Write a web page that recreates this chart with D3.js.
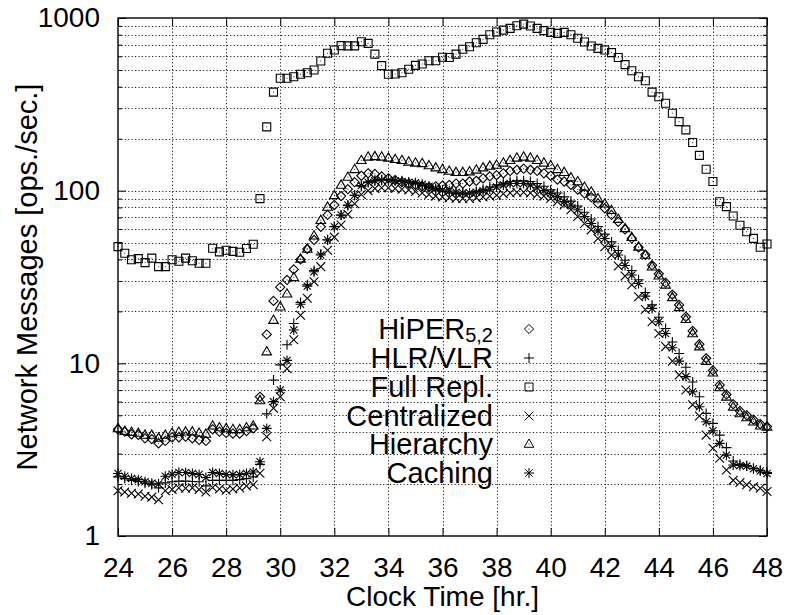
<!DOCTYPE html>
<html>
<head>
<meta charset="utf-8">
<script src="https://cdn.jsdelivr.net/npm/d3@7"></script>
<style>
  body { margin: 0; background: #fff; }
  svg { display: block; font-family: "Liberation Sans", Arial, Helvetica, sans-serif; }
  .axis text { font-size: 28px; fill: #000; }
  .axis line { stroke: #000; stroke-width: 1; }
  .grid line { stroke: #222; stroke-width: 1; stroke-dasharray: 1.2,2.2; }
</style>
</head>
<body>
<svg id="chart" width="788" height="615"></svg>
<script>
// clock time, one sample every 15 minutes from 24h to 48h
const hours = d3.range(97).map(i => 24 + i * 0.25);

const xTicks = [24, 26, 28, 30, 32, 34, 36, 38, 40, 42, 44, 46, 48];
const yTicks = [1, 10, 100, 1000];

// series values (ops./sec.), rows of 2 hours
const hiper = [
  4.15, 4.02, 3.88, 3.85, 3.68, 3.64, 3.44, 3.55,
  3.73, 3.73, 3.76, 3.68, 3.60, 3.55, 4.15, 4.02,
  3.95, 3.92, 3.92, 4.05, 4.20, 6.4, 14.7, 23.0,
  27.6, 30.4, 35.0, 40.0, 46.0, 51.8, 61.8, 72.3,
  82.6, 93.0, 102, 112, 122, 126, 125, 121,
  118, 115, 112, 110, 108, 106, 105, 106,
  107, 108, 110, 110, 113, 114, 118, 121,
  123, 126, 130, 132, 134, 132, 130, 126,
  122, 116, 113, 108, 101.5, 96.4, 91.7, 84.4,
  79.1, 72.3, 66.0, 59.7, 52.9, 47.0, 42.5, 37.0,
  33.0, 29.3, 25.0, 21.8, 18.6, 15.4, 12.9, 10.7,
  9.1, 7.5, 6.6, 5.8, 5.3, 5.0, 4.72, 4.45,
  4.3
];
const hlrVlr = [
  2.2, 2.15, 2.1, 2.07, 2.02, 1.98, 1.9, 2.03,
  2.06, 2.08, 2.08, 2.07, 2.06, 1.95, 2.1, 2.1,
  2.1, 2.1, 2.12, 2.15, 2.2, 2.6, 5.1, 8.0,
  9.8, 12.8, 17.0, 22.5, 28.5, 34.5, 43, 52,
  62, 72, 82, 94, 106, 112, 115, 116,
  116, 115, 114, 112, 110, 107, 104, 101,
  99, 97, 96, 96, 97, 99, 102, 105,
  108, 111, 113, 114, 114, 113, 110, 106,
  101, 97, 92, 87, 81.5, 75, 68.5, 62,
  56, 50.5, 45, 39.5, 34.5, 30.5, 25.7, 21.8,
  18.5, 15.9, 13.3, 11.4, 9.5, 7.8, 6.4, 5.13,
  4.49, 3.84, 3.25, 2.72, 2.6, 2.55, 2.47, 2.4,
  2.33
];
const fullRepl = [
  47.4, 43.4, 39.8, 40.4, 38.3, 40.7, 36.3, 36.3,
  39.8, 39.0, 40.7, 39.3, 38.0, 38.0, 46.4, 44.2,
  45.2, 44.5, 44.0, 46.2, 48.9, 89.9, 234, 372,
  448, 448, 457, 472, 482, 500, 564, 625,
  653, 692, 690, 690, 729, 713, 618, 530,
  472, 474, 482, 505, 532, 541, 566, 566,
  592, 590, 618, 659, 682, 719, 752, 800,
  829, 851, 871, 902, 922, 899, 871, 845,
  826, 815, 826, 800, 763, 726, 689, 667,
  653, 630, 590, 537, 495, 457, 433, 372,
  350, 321, 281, 251, 225, 190, 160, 133,
  113, 86.3, 80.8, 71.3, 63.0, 57.8, 52.9, 47.0,
  49.1
];
const centralized = [
  1.83, 1.8, 1.77, 1.75, 1.7, 1.68, 1.62, 1.83,
  1.86, 1.9, 1.89, 1.9, 1.86, 1.8, 1.91, 1.87,
  1.84, 1.87, 1.9, 1.95, 1.98, 2.31, 3.76, 5.5,
  6.4, 9.3, 13.7, 19.0, 23.8, 29.7, 36.3, 45.2,
  53.8, 63.3, 73, 84, 95, 100, 103, 104,
  104, 103, 102, 101, 99, 97, 95, 93,
  92, 91, 90, 90, 90, 91, 92, 93,
  94, 96, 97, 98, 98, 97, 95, 93,
  90, 86.4, 82.6, 77.5, 70.8, 64.5, 59.3, 52.8,
  47.3, 42.4, 36.6, 32, 28.5, 24.3, 20.5, 17.4,
  14.9, 12.5, 10.3, 8.57, 7.0, 5.75, 4.95, 3.84,
  3.22, 2.82, 2.41, 2.1, 2.04, 1.98, 1.93, 1.89,
  1.81
];
const hierarchy = [
  4.2, 4.05, 4.0, 3.95, 3.85, 3.85, 3.7, 3.85,
  3.95, 4.0, 4.02, 4.02, 3.95, 3.9, 4.35, 4.25,
  4.2, 4.15, 4.15, 4.25, 4.35, 6.1, 11.7, 17.8,
  21.3, 25.3, 31.5, 40.3, 46.0, 54.8, 67.5, 80.5,
  94.0, 108, 120, 133, 150, 157, 158, 157,
  155, 152, 150, 147, 145, 144, 140, 136,
  133, 130, 128, 128, 129, 132, 136, 139,
  141, 145, 150, 155, 157, 155, 150, 145,
  140, 133, 128, 119, 113, 105, 98.6, 90.0,
  84.0, 77.0, 68.5, 60.5, 53.8, 47.3, 42.4, 36.3,
  32.2, 28.5, 24.1, 21.1, 18.0, 14.9, 12.5, 10.3,
  8.83, 7.25, 6.4, 5.6, 5.13, 4.86, 4.59, 4.35,
  4.29
];
const caching = [
  2.3, 2.22, 2.15, 2.12, 2.06, 2.02, 2.0, 2.22,
  2.28, 2.33, 2.33, 2.3, 2.27, 2.18, 2.33, 2.3,
  2.27, 2.26, 2.27, 2.3, 2.35, 2.69, 4.2, 6.0,
  7.0, 10.4, 15.6, 22.0, 28.0, 33.9, 42.4, 51.8,
  61.8, 72.3, 82.6, 94, 107, 112, 114, 115,
  115, 114, 113, 112, 111, 109, 106, 103,
  101, 99.5, 98, 97, 97, 98, 100, 102,
  105, 108, 110, 110, 110, 108, 104, 100,
  96.5, 92.4, 86.4, 82.6, 77.5, 70.8, 64.5, 58.5,
  52.8, 47.6, 42.4, 36.9, 32.5, 29.0, 24.5, 20.8,
  17.4, 14.9, 12.3, 10.3, 8.38, 6.85, 5.6, 4.59,
  4.07, 3.44, 2.94, 2.58, 2.56, 2.54, 2.45, 2.38,
  2.3
];

const seriesNames = ["HiPER", "HLR/VLR", "Full Repl.", "Centralized", "Hierarchy", "Caching"];
const seriesValues = [hiper, hlrVlr, fullRepl, centralized, hierarchy, caching];
const seriesShapes = ["diamond", "plus", "square", "cross", "triangle", "star"];

const svg = d3.select("#chart");
const margin = {top: 18, right: 21, bottom: 79, left: 118};
const W = 788, H = 615;

const x = d3.scaleLinear().domain([24, 48]).range([margin.left, W - margin.right]);
const y = d3.scaleLog().domain([1, 1000]).range([H - margin.bottom, margin.top]);

// minor log values 2..9 for each decade
let minorY = [];
[1, 10, 100].forEach(d => { for (let m = 2; m <= 9; m++) minorY.push(d * m); });

// grid
const grid = svg.append("g").attr("class", "grid");
grid.selectAll(".gy").data(minorY.concat([10, 100])).enter().append("line")
  .attr("x1", x(24)).attr("x2", x(48))
  .attr("y1", d => Math.round(y(d)) + 0.5).attr("y2", d => Math.round(y(d)) + 0.5);
grid.selectAll(".gx").data(xTicks.slice(1, -1)).enter().append("line")
  .attr("y1", y(1)).attr("y2", y(1000))
  .attr("x1", d => Math.round(x(d)) + 0.5).attr("x2", d => Math.round(x(d)) + 0.5);

// axes, inward ticks on all sides
svg.append("g").attr("class", "axis").attr("transform", `translate(${x(24)},0)`)
  .call(d3.axisLeft(y).tickValues(yTicks).tickFormat(d3.format("d")).tickSizeInner(-8).tickSizeOuter(0).tickPadding(18));
svg.append("g").attr("class", "axis").attr("transform", `translate(${x(24)},0)`)
  .call(d3.axisLeft(y).tickValues(minorY).tickFormat("").tickSizeInner(-4).tickSizeOuter(0));
svg.append("g").attr("class", "axis").attr("transform", `translate(${x(48)},0)`)
  .call(d3.axisRight(y).tickValues(yTicks).tickFormat("").tickSizeInner(-8).tickSizeOuter(0));
svg.append("g").attr("class", "axis").attr("transform", `translate(${x(48)},0)`)
  .call(d3.axisRight(y).tickValues(minorY).tickFormat("").tickSizeInner(-4).tickSizeOuter(0));
svg.append("g").attr("class", "axis").attr("transform", `translate(0,${y(1)})`)
  .call(d3.axisBottom(x).tickValues(xTicks).tickFormat(d3.format("d")).tickSizeInner(-8).tickSizeOuter(0).tickPadding(21));
svg.append("g").attr("class", "axis").attr("transform", `translate(0,${y(1000)})`)
  .call(d3.axisTop(x).tickValues(xTicks).tickFormat("").tickSizeInner(-8).tickSizeOuter(0));
svg.selectAll(".axis .domain").remove();

// frame
svg.append("rect")
  .attr("x", x(24)).attr("y", y(1000))
  .attr("width", x(48) - x(24)).attr("height", y(1) - y(1000))
  .attr("fill", "none").attr("stroke", "#000").attr("stroke-width", 1.4);

// axis titles
svg.append("text")
  .attr("x", (x(24) + x(48)) / 2).attr("y", 606)
  .attr("text-anchor", "middle").attr("font-size", 28)
  .text("Clock Time [hr.]");
svg.append("text")
  .attr("transform", `translate(37,${(y(1) + y(1000)) / 2}) rotate(-90)`)
  .attr("text-anchor", "middle").attr("font-size", 29)
  .text("Network Messages [ops./sec.]");

// point shapes, gnuplot style
function shapePath(type) {
  switch (type) {
    case "square": return "M-4,-4H4V4H-4Z";
    case "diamond": return "M0,-4.6L4.6,0L0,4.6L-4.6,0Z";
    case "triangle": return "M0,-5L4.8,3.3L-4.8,3.3Z";
    case "cross": return "M-4.4,-4.4L4.4,4.4M-4.4,4.4L4.4,-4.4";
    case "plus": return "M-5,0H5M0,-5V5";
    case "star": return "M-5,0H5M0,-5V5M-3.6,-3.6L3.6,3.6M-3.6,3.6L3.6,-3.6";
  }
}

const pts = svg.append("g");
seriesValues.forEach((vals, i) => {
  const g = pts.append("g");
  const data = vals.map((v, j) => ({t: hours[j], v: v}));
  const p = g.selectAll("g").data(data).enter().append("g")
    .attr("transform", d => `translate(${x(d.t)},${y(d.v)})`);
  p.append("path").attr("d", shapePath(seriesShapes[i]))
    .attr("fill", "none").attr("stroke", "#000").attr("stroke-width", 1.1);
  p.append("rect").attr("x", -0.5).attr("y", -0.5).attr("width", 1).attr("height", 1).attr("fill", "#333");
});

// legend
const legY = [329, 358, 387, 416, 444, 473];
const leg = svg.append("g");
seriesNames.forEach((name, i) => {
  const t = leg.append("text")
    .attr("x", 493).attr("y", legY[i] + 10)
    .attr("text-anchor", "end").attr("font-size", 29);
  if (i === 0) {
    t.append("tspan").text(name);
    t.append("tspan").attr("font-size", 20).attr("dy", 3).text("5,2");
  } else {
    t.text(name);
  }
  const s = leg.append("g").attr("transform", `translate(529,${legY[i]})`);
  s.append("path").attr("d", shapePath(seriesShapes[i]))
    .attr("fill", "none").attr("stroke", "#000").attr("stroke-width", 1);
  s.append("rect").attr("x", -0.5).attr("y", -0.5).attr("width", 1).attr("height", 1).attr("fill", "#333");
});
</script>
</body>
</html>
